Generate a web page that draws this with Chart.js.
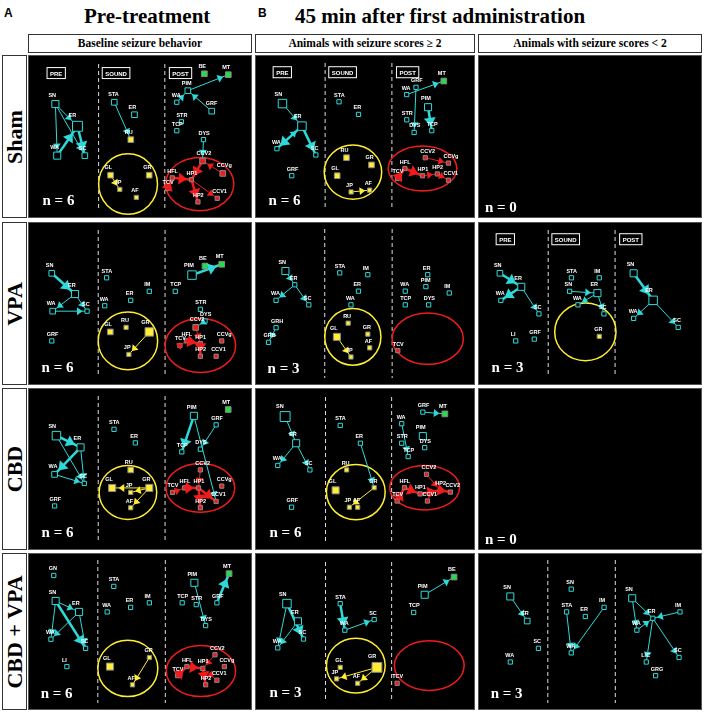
<!DOCTYPE html>
<html><head><meta charset="utf-8">
<script src="https://cdn.jsdelivr.net/npm/chart.js@4.4.1/dist/chart.umd.min.js"></script>
<style>
body{margin:0;width:708px;height:712px;background:#fff;position:relative;overflow:hidden;font-family:"Liberation Serif",serif}
.t{position:absolute;font-weight:bold;white-space:nowrap}
.box{position:absolute;border:1px solid #333;box-sizing:border-box;font-weight:bold;font-size:11.5px;text-align:center;line-height:17px}
.rl{position:absolute;border:1px solid #333;box-sizing:border-box;background:#fff}
.rl span{position:absolute;left:50%;top:50%;transform:translate(-50%,-50%) rotate(-90deg);font-weight:bold;font-size:22px;white-space:nowrap}
.p{position:absolute;background:#000;border:1px solid #555;box-sizing:border-box}
</style></head><body>
<div class="t" style="left:4px;top:6px;font-size:12px;font-family:'Liberation Sans'">A</div>
<div class="t" style="left:84px;top:4px;font-size:21px">Pre-treatment</div>
<div class="t" style="left:258px;top:6px;font-size:12px;font-family:'Liberation Sans'">B</div>
<div class="t" style="left:295px;top:4px;font-size:21px">45 min after first administration</div>
<div class="box" style="left:28px;top:34px;width:224px;height:19px">Baseline seizure behavior</div>
<div class="box" style="left:255px;top:34px;width:220px;height:19px">Animals with seizure scores ≥ 2</div>
<div class="box" style="left:478px;top:34px;width:224px;height:19px">Animals with seizure scores &lt; 2</div>
<div id="root"></div>
<script>
const rowLabels=["Sham","VPA","CBD","CBD + VPA"];
const colX=[28,255,478], colW=[224,220,224];
const rowY=[55,222,388,553], rowH=[163,163,162,157];
// nodes: [label,x,y,type,size]  type c=cyan outline, y=yellow, r=red, g=green
const nodesA1=[["SN",20,45,"c",5],["ER",44,70,"c",7],["WA",22,103,"c",5],["SC",52,103,"c",4],["STA",84,43,"c",4],["ER",106,57,"c",4],["RU",102,85,"y",4],["GL",80,125,"y",4],["JP",90,141,"y",3],["AF",108,150,"y",3],["GR",122,125,"y",4],["BE",182,11,"g",4],["MT",208,12,"g",4],["PIM",164,30,"c",4],["WA",152,43,"c",3],["STR",157,65,"c",3],["GRF",190,53,"c",4],["TCP",152,75,"c",3],["DYS",181,85,"c",3],["CCV2",180,109,"r",4],["HFL",147,128,"r",3],["HP1",168,130,"r",3],["TCV",142,140,"r",3],["HP2",175,155,"r",3],["CCV1",196,151,"r",3],["CCVg",202,123,"r",4]];
const edgesA1=[[0,2,1],[0,1,1],[2,1,2],[1,3,2],[0,3,1],[4,6,1],[7,8,1],[14,13,1],[13,12,1],[16,13,1],[18,19,1],[19,21,2],[20,21,2],[22,20,2],[21,23,2],[21,24,1],[25,19,1]];
const nodesB1=[["SN",21,45,"c",6],["ER",42,70,"c",6],["WA",15,95,"c",3],["SC",57,102,"c",3],["GRF",31,125,"c",3],["STA",82,43,"c",3],["ER",103,57,"c",3],["RU",90,105,"y",4],["GL",80,125,"y",4],["GR",117,113,"y",4],["JP",95,143,"y",3],["AF",115,141,"y",3],["MT",195,20,"g",4],["GRF",165,27,"c",3],["WA",155,35,"c",3],["PIM",178,49,"c",5],["STR",155,63,"c",3],["DYS",163,77,"c",3],["TCP",182,75,"c",3],["CCV2",175,105,"r",3],["HFL",153,117,"r",3],["CCVg",200,111,"r",3],["HP1",172,125,"r",3],["HP2",188,123,"r",3],["CCV1",200,130,"r",3],["TCV",145,128,"r",3]];
const edgesB1=[[0,1,1],[1,2,2],[1,3,2],[2,1,1],[10,11,1],[14,12,1],[15,18,2],[13,17,1],[25,20,2],[20,22,2],[22,23,1],[23,24,1],[19,21,1]];
const nodesA2=[["SN",17,48,"c",4],["ER",42,71,"c",5],["WA",18,90,"c",4],["SC",55,90,"c",3],["GRF",17,123,"c",3],["STA",76,53,"c",3],["ER",102,78,"c",3],["WA",74,84,"c",3],["IM",122,68,"c",3],["GL",80,113,"y",4],["RU",97,108,"y",3],["GR",122,113,"y",6],["JP",100,138,"y",3],["BE",182,40,"g",4],["MT",200,38,"g",4],["PIM",168,50,"c",6],["TCP",150,68,"c",3],["STR",177,88,"c",3],["DYS",182,101,"c",3],["CCV2",172,108,"r",4],["HFL",162,123,"r",3],["HP1",177,126,"r",3],["TCV",155,128,"r",3],["HP2",177,140,"r",3],["CCV1",194,140,"r",3],["CCVg",200,123,"r",3]];
const edgesA2=[[0,1,2],[1,3,1],[2,3,1],[1,2,1],[11,12,1],[15,14,2],[18,19,1],[20,21,2],[21,23,2],[22,20,1],[19,21,1]];
const nodesB2=[["SN",25,46,"c",5],["ER",35,61,"c",3],["WA",15,78,"c",3],["SC",50,83,"c",3],["GRH",15,108,"c",3],["GRB",7,124,"c",3],["STA",83,48,"c",3],["IM",113,50,"c",3],["ER",103,68,"c",3],["WA",95,83,"c",3],["RU",92,103,"y",3],["GL",80,118,"y",5],["GR",113,115,"y",3],["AF",115,130,"y",3],["JP",95,140,"y",3],["ER",177,50,"c",3],["PIM",175,63,"c",3],["IM",200,70,"c",3],["WA",153,68,"c",3],["TCP",153,83,"c",3],["DYS",178,83,"c",3],["TCV",145,133,"r",3]];
const edgesB2=[[0,1,1],[1,2,1],[1,3,1],[4,5,1],[11,14,1]];
const nodesC2=[["SN",15,48,"c",4],["ER",38,63,"c",5],["WA",16,78,"c",3],["SC",57,93,"c",3],["GRF",52,121,"c",3],["LI",32,123,"c",3],["STA",92,53,"c",3],["IM",122,53,"c",3],["SN",90,68,"c",3],["ER",120,70,"c",5],["WA",99,83,"c",3],["SC",127,93,"c",3],["GR",122,118,"y",3],["SN",159,48,"c",5],["ER",180,78,"c",6],["WA",159,98,"c",3],["SC",207,108,"c",3]];
const edgesC2=[[0,1,2],[1,2,2],[1,3,1],[9,10,1],[8,9,1],[9,11,1],[13,14,2],[14,15,1],[14,16,1]];
const nodesA3=[["SN",22,44,"c",6],["ER",48,57,"c",5],["WA",20,87,"c",4],["SC",52,97,"c",3],["GRF",20,122,"c",3],["STA",84,37,"c",3],["ER",107,52,"c",3],["RU",102,82,"y",4],["GL",82,102,"y",5],["JP",102,107,"y",3],["GR",122,102,"y",5],["AF",102,124,"y",3],["MT",207,15,"g",4],["PIM",170,22,"c",5],["GRF",194,32,"c",3],["DYS",177,59,"c",3],["TCP",157,62,"c",3],["CCV2",177,82,"r",3],["HFL",160,102,"r",3],["TCV",147,107,"r",3],["HP1",175,102,"r",3],["CCVg",200,100,"r",3],["CCV1",194,117,"r",3],["HP2",177,124,"r",3]];
const edgesA3=[[0,1,2],[0,3,1],[1,2,2],[2,3,1],[1,3,1],[10,8,1],[10,11,1],[10,9,1],[13,16,2],[14,15,1],[13,22,1],[19,18,1],[18,20,2],[20,23,2],[20,22,2],[17,20,1]];
const nodesB3=[["SN",23,22,"c",7],["ER",35,52,"c",5],["WA",15,77,"c",3],["SC",50,82,"c",3],["GRF",30,124,"c",3],["STA",83,32,"c",3],["ER",105,52,"c",3],["RU",90,82,"y",3],["GL",78,105,"y",5],["GR",120,102,"y",3],["JP",93,124,"y",3],["AF",102,124,"y",3],["GRF",173,17,"c",3],["MT",197,19,"g",4],["WA",150,30,"c",3],["PIM",173,44,"c",5],["STR",150,52,"c",3],["DYS",175,57,"c",3],["TCP",157,67,"c",3],["CCV2",177,87,"r",3],["HFL",153,102,"r",3],["HP1",170,109,"r",3],["HP2",192,105,"r",3],["CCV2",203,107,"r",3],["TCV",145,117,"r",3],["CCV1",178,117,"r",3]];
const edgesB3=[[0,1,1],[1,2,1],[1,3,1],[6,9,1],[9,10,1],[12,13,1],[14,18,1],[24,20,2],[20,21,2],[21,22,2],[22,23,2],[19,22,1]];
const nodesA4=[["GN",20,17,"c",3],["SN",22,45,"c",5],["ER",47,57,"c",5],["WA",17,87,"c",3],["SC",54,97,"c",3],["LI",34,117,"c",3],["STA",84,29,"c",3],["ER",102,52,"c",3],["WA",77,57,"c",3],["IM",122,47,"c",3],["GL",80,117,"y",5],["GR",122,107,"y",3],["AF",104,137,"y",3],["MT",207,15,"g",4],["PIM",170,25,"c",5],["TCP",157,47,"c",3],["STR",172,49,"c",3],["GRF",194,47,"c",3],["DYS",182,72,"c",3],["CCV2",192,104,"r",3],["HFL",162,117,"r",3],["HP1",179,119,"r",3],["HP2",182,137,"r",3],["CCV1",194,132,"r",3],["TCV",152,127,"r",3],["CCVg",202,117,"r",3]];
const edgesA4=[[1,2,1],[1,3,1],[1,4,2],[2,4,1],[2,3,1],[11,12,1],[17,13,2],[14,18,1],[24,20,2],[20,21,2],[21,22,2],[21,23,1],[19,21,1]];
const nodesB4=[["SN",25,47,"c",6],["ER",37,67,"c",5],["WA",15,97,"c",3],["SC",43,87,"c",3],["STA",83,47,"c",3],["WA",88,77,"c",3],["SC",120,65,"c",3],["GL",83,119,"y",3],["GR",123,119,"y",7],["JP",79,132,"y",3],["AF",102,137,"y",3],["BE",207,17,"g",4],["PIM",175,37,"c",5],["TCP",163,57,"c",3],["TCV",145,137,"r",3]];
const edgesB4=[[0,2,1],[0,3,2],[1,2,1],[4,5,2],[5,6,1],[8,10,1],[8,9,1],[12,11,1]];
const nodesC4=[["SN",27,40,"c",5],["ER",45,67,"c",4],["WA",27,112,"c",3],["SC",57,97,"c",3],["SN",92,32,"c",3],["STA",87,57,"c",3],["ER",107,62,"c",3],["IM",127,52,"c",3],["WA",92,102,"c",3],["SN",157,42,"c",5],["IM",208,57,"c",3],["ER",179,64,"c",3],["WA",162,77,"c",3],["LIC",172,112,"c",3],["GRG",182,127,"c",3],["SC",207,107,"c",3]];
const edgesC4=[[0,1,1],[5,8,1],[7,8,1],[9,12,1],[9,11,1],[11,15,1],[12,11,1],[10,11,1],[11,13,1]];
// panels: col,row,n,nodes,edges, yellow ellipse, red ellipse, section tags shown
const panels=[
 [0,0,6,nodesA1,edgesA1,[99,135,32,34],[177,135,37,30],true],
 [1,0,6,nodesB1,edgesB1,[97,121,31,30],[172,117,37,25],true],
 [2,0,0,[],[],null,null,false],
 [0,1,6,nodesA2,edgesA2,[99,123,32,32],[177,128,38,30],false],
 [1,1,3,nodesB2,edgesB2,[97,118,30,31],[177,120,38,28],false],
 [2,1,3,nodesC2,edgesC2,[107,113,33,32],null,true],
 [0,2,6,nodesA3,edgesA3,[99,107,31,30],[177,102,37,27],false],
 [1,2,6,nodesB3,edgesB3,[100,107,32,31],[175,102,38,25],false],
 [2,2,0,[],[],null,null,false],
 [0,3,6,nodesA4,edgesA4,[99,119,32,31],[177,122,37,28],false],
 [1,3,3,nodesB4,edgesB4,[100,117,32,31],[180,117,38,28],false],
 [2,3,3,nodesC4,edgesC4,null,null,false]
];
const CY="#2fd9d9",YL="#ffee33",RD="#ee1c1c",GN="#22dd44";
const fill={c:"#000",y:YL,r:RD,g:GN}, edgeCol={c:CY,y:YL,r:RD,g:CY};
const root=document.getElementById('root');
rowLabels.forEach((l,i)=>{const d=document.createElement('div');d.className='rl';d.style.cssText=`left:2px;top:${rowY[i]}px;width:25px;height:${rowH[i]}px`;d.innerHTML=`<span>${l}</span>`;root.appendChild(d);});
const deco={id:'deco',
 beforeDatasetsDraw(ch,a,o){const c=ch.ctx,x=ch.scales.x,y=ch.scales.y,p=ch.options.plugins.deco;
  c.save();
  if(p.full){c.setLineDash([4,3]);c.strokeStyle="#ddd";c.lineWidth=1;
   [67,139].forEach(v=>{c.beginPath();c.moveTo(x.getPixelForValue(v),y.getPixelForValue(0));c.lineTo(x.getPixelForValue(v),y.getPixelForValue(p.h));c.stroke();});
   c.setLineDash([]);}
  if(p.tags){c.font="bold 6px 'Liberation Sans'";c.fillStyle="#fff";
   [["PRE",12],["SOUND",72],["POST",145]].forEach(([t,v])=>{const px=x.getPixelForValue(v),py=y.getPixelForValue(13);const w=c.measureText(t).width+6;c.strokeStyle="#fff";c.strokeRect(px-1,py-8,w,11);c.fillText(t,px+2,py);});}
  [[p.ye,YL],[p.re,RD]].forEach(([e,col])=>{if(!e)return;c.strokeStyle=col;c.lineWidth=1.5;c.beginPath();
   const cx=x.getPixelForValue(e[0]),cy=y.getPixelForValue(e[1]);c.ellipse(cx,cy,Math.abs(x.getPixelForValue(e[0]+e[2])-cx),Math.abs(y.getPixelForValue(e[1]+e[3])-cy),0,0,Math.PI*2);c.stroke();});
  c.restore();},
 afterDatasetsDraw(ch){const c=ch.ctx,x=ch.scales.x,y=ch.scales.y,p=ch.options.plugins.deco;c.save();
  p.edges.forEach(e=>{const a=p.nodes[e[0]],b=p.nodes[e[1]];const x1=x.getPixelForValue(a[1]),y1=y.getPixelForValue(a[2]),x2=x.getPixelForValue(b[1]),y2=y.getPixelForValue(b[2]);
   const L=Math.hypot(x2-x1,y2-y1);if(L<1)return;const ux=(x2-x1)/L,uy=(y2-y1)/L;const r=b[4]+1.5,tx=x2-ux*r,ty=y2-uy*r,s=e[2]>1?6:4;
   c.fillStyle=edgeCol[a[3]];c.beginPath();c.moveTo(tx,ty);c.lineTo(tx-ux*s*1.4-uy*s,ty-uy*s*1.4+ux*s);c.lineTo(tx-ux*s*1.4+uy*s,ty-uy*s*1.4-ux*s);c.closePath();c.fill();});
  c.font="bold 5.5px 'Liberation Sans'";c.fillStyle="#fff";
  p.nodes.forEach(n=>{c.fillText(n[0],x.getPixelForValue(n[1])-n[4]-2,y.getPixelForValue(n[2])-n[4]-2);});
  c.font="bold 15px 'Liberation Serif'";c.fillText("n = "+p.n,x.getPixelForValue(6),y.getPixelForValue(p.h-5));
  c.restore();}};
panels.forEach(([col,row,n,nodes,edges,ye,re,tags])=>{
 const W=colW[col],H=rowH[row];const d=document.createElement('div');d.className='p';
 d.style.cssText=`left:${colX[col]}px;top:${rowY[row]}px;width:${W}px;height:${H}px`;
 const cv=document.createElement('canvas');d.appendChild(cv);root.appendChild(d);
 const ds=[{type:'scatter',order:0,data:nodes.map(q=>({x:q[1],y:q[2]})),pointStyle:'rect',pointRadius:nodes.map(q=>q[4]),
   backgroundColor:nodes.map(q=>fill[q[3]]),borderColor:nodes.map(q=>q[3]=='c'?CY:'#888'),borderWidth:1}];
 edges.forEach(e=>{const a=nodes[e[0]],b=nodes[e[1]];ds.push({type:'line',order:1,data:[{x:a[1],y:a[2]},{x:b[1],y:b[2]}],borderColor:edgeCol[a[3]],borderWidth:e[2]>1?2.5:1,pointRadius:0});});
 new Chart(cv,{type:'scatter',data:{datasets:ds},plugins:[deco],
  options:{responsive:true,maintainAspectRatio:false,animation:false,layout:{padding:0},
   scales:{x:{type:'linear',min:0,max:W,display:false},y:{type:'linear',min:0,max:H,reverse:true,display:false}},
   plugins:{legend:{display:false},tooltip:{enabled:false},deco:{full:nodes.length>0,tags,h:H,ye,re,nodes,edges,n}}}});
});
</script></body></html>
